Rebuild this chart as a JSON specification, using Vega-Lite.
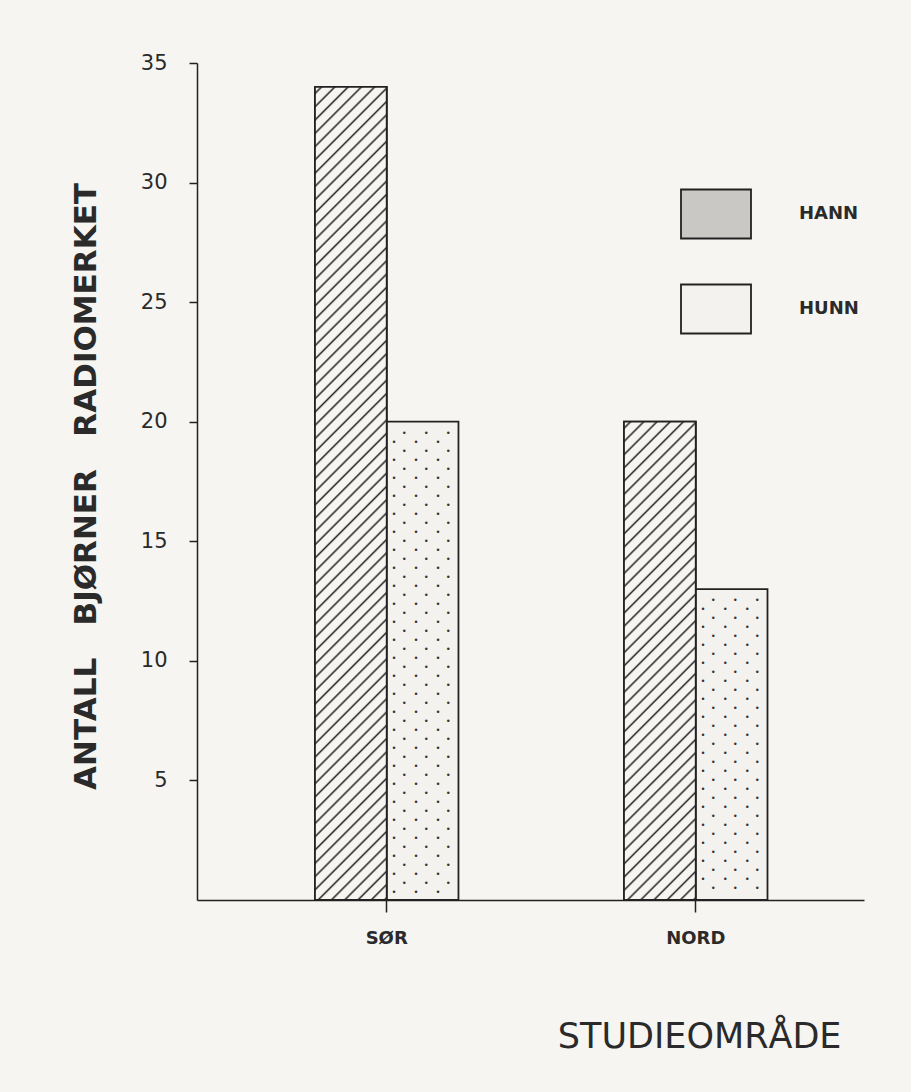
{
  "$schema": "https://vega.github.io/schema/vega-lite/v6.json",
  "width": 667,
  "height": 837,
  "autosize": "none",
  "padding": {"left": 197, "top": 63, "right": 47, "bottom": 192},
  "background": "#f6f5f1",
  "config": {"view": {"stroke": null}, "font": "DejaVu Sans"},
  "data": {
    "values": [
      {"area": "SØR", "sex": "HANN", "count": 34},
      {"area": "SØR", "sex": "HUNN", "count": 20},
      {"area": "NORD", "sex": "HANN", "count": 20},
      {"area": "NORD", "sex": "HUNN", "count": 13}
    ]
  },
  "encoding": {
    "x": {
      "field": "area",
      "type": "nominal",
      "sort": ["SØR", "NORD"],
      "scale": {"paddingInner": 0.5356, "paddingOuter": 0.347, "align": 0.55, "round": false},
      "axis": {
        "title": "STUDIEOMRÅDE",
        "labelAngle": 0,
        "labelFont": "DejaVu Sans",
        "labelFontWeight": "bold",
        "labelFontSize": 18,
        "labelColor": "#2a2a2a",
        "labelPadding": 17,
        "tickSize": 12,
        "tickColor": "#222",
        "tickWidth": 1.5,
        "domainColor": "#222",
        "domainWidth": 1.5,
        "titleFont": "DejaVu Sans",
        "titleFontWeight": "normal",
        "titleFontSize": 35,
        "titleColor": "#2a2a2a",
        "titleX": 644,
        "titleY": 147,
        "titleAlign": "right",
        "titleBaseline": "alphabetic"
      }
    },
    "xOffset": {
      "field": "sex",
      "type": "nominal",
      "sort": ["HANN", "HUNN"],
      "scale": {"paddingInner": 0, "paddingOuter": 0}
    },
    "y": {
      "field": "count",
      "type": "quantitative",
      "scale": {"domain": [0, 35], "nice": false},
      "axis": {
        "title": "ANTALL\u00a0\u00a0\u00a0BJØRNER\u00a0\u00a0\u00a0RADIOMERKET",
        "values": [5, 10, 15, 20, 25, 30, 35],
        "grid": false,
        "labelFont": "DejaVu Sans",
        "labelFontSize": 21,
        "labelColor": "#2a2a2a",
        "labelPadding": 22,
        "tickSize": 8,
        "tickColor": "#222",
        "tickWidth": 1.5,
        "domainColor": "#222",
        "domainWidth": 1.5,
        "titleFont": "DejaVu Sans",
        "titleFontWeight": "bold",
        "titleFontSize": 31,
        "titleColor": "#2a2a2a",
        "titleX": -102,
        "titleY": 423,
        "titleAlign": "center",
        "titleBaseline": "alphabetic",
        "titleAngle": -90
      }
    }
  },
  "layer": [
    {
      "mark": {"type": "bar", "stroke": "#222", "strokeWidth": 1.8},
      "encoding": {
        "fill": {
          "field": "sex",
          "type": "nominal",
          "sort": ["HANN", "HUNN"],
          "scale": {"domain": ["HANN", "HUNN"], "range": ["#c9c8c4", "#f3f2ee"]},
          "legend": {
            "title": null,
            "orient": "none",
            "legendX": 483,
            "legendY": 115,
            "padding": 0,
            "symbolType": "M-1,-0.7H1V0.7H-1Z",
            "symbolSize": 4900,
            "symbolStrokeColor": "#222",
            "symbolStrokeWidth": 1.8,
            "labelFont": "DejaVu Sans",
            "labelFontWeight": "bold",
            "labelFontSize": 18,
            "labelColor": "#2a2a2a",
            "labelOffset": 47,
            "rowPadding": 30
          }
        }
      }
    },
    {
      "transform": [{"filter": "datum.area === 'SØR' && datum.sex === 'HANN'"}],
      "mark": {
        "type": "bar", "stroke": "#222", "strokeWidth": 1.8,
        "fill": {
          "gradient": "linear", "x1": 0, "y1": 0, "x2": 0.0953, "y2": 1.0798,
          "stops": [
            {"offset": 0.005, "color": "#f6f5f1"}, {"offset": 0.0075, "color": "#2a2a2a"}, {"offset": 0.01, "color": "#f6f5f1"},
            {"offset": 0.02, "color": "#f6f5f1"}, {"offset": 0.0225, "color": "#2a2a2a"}, {"offset": 0.025, "color": "#f6f5f1"},
            {"offset": 0.035, "color": "#f6f5f1"}, {"offset": 0.0375, "color": "#2a2a2a"}, {"offset": 0.04, "color": "#f6f5f1"},
            {"offset": 0.05, "color": "#f6f5f1"}, {"offset": 0.0525, "color": "#2a2a2a"}, {"offset": 0.055, "color": "#f6f5f1"},
            {"offset": 0.065, "color": "#f6f5f1"}, {"offset": 0.0675, "color": "#2a2a2a"}, {"offset": 0.07, "color": "#f6f5f1"},
            {"offset": 0.08, "color": "#f6f5f1"}, {"offset": 0.0825, "color": "#2a2a2a"}, {"offset": 0.085, "color": "#f6f5f1"},
            {"offset": 0.095, "color": "#f6f5f1"}, {"offset": 0.0975, "color": "#2a2a2a"}, {"offset": 0.1, "color": "#f6f5f1"},
            {"offset": 0.11, "color": "#f6f5f1"}, {"offset": 0.1125, "color": "#2a2a2a"}, {"offset": 0.115, "color": "#f6f5f1"},
            {"offset": 0.125, "color": "#f6f5f1"}, {"offset": 0.1275, "color": "#2a2a2a"}, {"offset": 0.13, "color": "#f6f5f1"},
            {"offset": 0.14, "color": "#f6f5f1"}, {"offset": 0.1425, "color": "#2a2a2a"}, {"offset": 0.145, "color": "#f6f5f1"},
            {"offset": 0.155, "color": "#f6f5f1"}, {"offset": 0.1575, "color": "#2a2a2a"}, {"offset": 0.16, "color": "#f6f5f1"},
            {"offset": 0.17, "color": "#f6f5f1"}, {"offset": 0.1725, "color": "#2a2a2a"}, {"offset": 0.175, "color": "#f6f5f1"},
            {"offset": 0.185, "color": "#f6f5f1"}, {"offset": 0.1875, "color": "#2a2a2a"}, {"offset": 0.19, "color": "#f6f5f1"},
            {"offset": 0.2, "color": "#f6f5f1"}, {"offset": 0.2025, "color": "#2a2a2a"}, {"offset": 0.205, "color": "#f6f5f1"},
            {"offset": 0.215, "color": "#f6f5f1"}, {"offset": 0.2175, "color": "#2a2a2a"}, {"offset": 0.22, "color": "#f6f5f1"},
            {"offset": 0.23, "color": "#f6f5f1"}, {"offset": 0.2325, "color": "#2a2a2a"}, {"offset": 0.235, "color": "#f6f5f1"},
            {"offset": 0.245, "color": "#f6f5f1"}, {"offset": 0.2475, "color": "#2a2a2a"}, {"offset": 0.25, "color": "#f6f5f1"},
            {"offset": 0.26, "color": "#f6f5f1"}, {"offset": 0.2625, "color": "#2a2a2a"}, {"offset": 0.265, "color": "#f6f5f1"},
            {"offset": 0.275, "color": "#f6f5f1"}, {"offset": 0.2775, "color": "#2a2a2a"}, {"offset": 0.28, "color": "#f6f5f1"},
            {"offset": 0.29, "color": "#f6f5f1"}, {"offset": 0.2925, "color": "#2a2a2a"}, {"offset": 0.295, "color": "#f6f5f1"},
            {"offset": 0.305, "color": "#f6f5f1"}, {"offset": 0.3075, "color": "#2a2a2a"}, {"offset": 0.31, "color": "#f6f5f1"},
            {"offset": 0.32, "color": "#f6f5f1"}, {"offset": 0.3225, "color": "#2a2a2a"}, {"offset": 0.325, "color": "#f6f5f1"},
            {"offset": 0.335, "color": "#f6f5f1"}, {"offset": 0.3375, "color": "#2a2a2a"}, {"offset": 0.34, "color": "#f6f5f1"},
            {"offset": 0.35, "color": "#f6f5f1"}, {"offset": 0.3525, "color": "#2a2a2a"}, {"offset": 0.355, "color": "#f6f5f1"},
            {"offset": 0.365, "color": "#f6f5f1"}, {"offset": 0.3675, "color": "#2a2a2a"}, {"offset": 0.37, "color": "#f6f5f1"},
            {"offset": 0.38, "color": "#f6f5f1"}, {"offset": 0.3825, "color": "#2a2a2a"}, {"offset": 0.385, "color": "#f6f5f1"},
            {"offset": 0.395, "color": "#f6f5f1"}, {"offset": 0.3975, "color": "#2a2a2a"}, {"offset": 0.4, "color": "#f6f5f1"},
            {"offset": 0.41, "color": "#f6f5f1"}, {"offset": 0.4125, "color": "#2a2a2a"}, {"offset": 0.415, "color": "#f6f5f1"},
            {"offset": 0.425, "color": "#f6f5f1"}, {"offset": 0.4275, "color": "#2a2a2a"}, {"offset": 0.43, "color": "#f6f5f1"},
            {"offset": 0.44, "color": "#f6f5f1"}, {"offset": 0.4425, "color": "#2a2a2a"}, {"offset": 0.445, "color": "#f6f5f1"},
            {"offset": 0.455, "color": "#f6f5f1"}, {"offset": 0.4575, "color": "#2a2a2a"}, {"offset": 0.46, "color": "#f6f5f1"},
            {"offset": 0.47, "color": "#f6f5f1"}, {"offset": 0.4725, "color": "#2a2a2a"}, {"offset": 0.475, "color": "#f6f5f1"},
            {"offset": 0.485, "color": "#f6f5f1"}, {"offset": 0.4875, "color": "#2a2a2a"}, {"offset": 0.49, "color": "#f6f5f1"},
            {"offset": 0.5, "color": "#f6f5f1"}, {"offset": 0.5025, "color": "#2a2a2a"}, {"offset": 0.505, "color": "#f6f5f1"},
            {"offset": 0.515, "color": "#f6f5f1"}, {"offset": 0.5175, "color": "#2a2a2a"}, {"offset": 0.52, "color": "#f6f5f1"},
            {"offset": 0.53, "color": "#f6f5f1"}, {"offset": 0.5325, "color": "#2a2a2a"}, {"offset": 0.535, "color": "#f6f5f1"},
            {"offset": 0.545, "color": "#f6f5f1"}, {"offset": 0.5475, "color": "#2a2a2a"}, {"offset": 0.55, "color": "#f6f5f1"},
            {"offset": 0.56, "color": "#f6f5f1"}, {"offset": 0.5625, "color": "#2a2a2a"}, {"offset": 0.565, "color": "#f6f5f1"},
            {"offset": 0.575, "color": "#f6f5f1"}, {"offset": 0.5775, "color": "#2a2a2a"}, {"offset": 0.58, "color": "#f6f5f1"},
            {"offset": 0.59, "color": "#f6f5f1"}, {"offset": 0.5925, "color": "#2a2a2a"}, {"offset": 0.595, "color": "#f6f5f1"},
            {"offset": 0.605, "color": "#f6f5f1"}, {"offset": 0.6075, "color": "#2a2a2a"}, {"offset": 0.61, "color": "#f6f5f1"},
            {"offset": 0.62, "color": "#f6f5f1"}, {"offset": 0.6225, "color": "#2a2a2a"}, {"offset": 0.625, "color": "#f6f5f1"},
            {"offset": 0.635, "color": "#f6f5f1"}, {"offset": 0.6375, "color": "#2a2a2a"}, {"offset": 0.64, "color": "#f6f5f1"},
            {"offset": 0.65, "color": "#f6f5f1"}, {"offset": 0.6525, "color": "#2a2a2a"}, {"offset": 0.655, "color": "#f6f5f1"},
            {"offset": 0.665, "color": "#f6f5f1"}, {"offset": 0.6675, "color": "#2a2a2a"}, {"offset": 0.67, "color": "#f6f5f1"},
            {"offset": 0.68, "color": "#f6f5f1"}, {"offset": 0.6825, "color": "#2a2a2a"}, {"offset": 0.685, "color": "#f6f5f1"},
            {"offset": 0.695, "color": "#f6f5f1"}, {"offset": 0.6975, "color": "#2a2a2a"}, {"offset": 0.7, "color": "#f6f5f1"},
            {"offset": 0.71, "color": "#f6f5f1"}, {"offset": 0.7125, "color": "#2a2a2a"}, {"offset": 0.715, "color": "#f6f5f1"},
            {"offset": 0.725, "color": "#f6f5f1"}, {"offset": 0.7275, "color": "#2a2a2a"}, {"offset": 0.73, "color": "#f6f5f1"},
            {"offset": 0.74, "color": "#f6f5f1"}, {"offset": 0.7425, "color": "#2a2a2a"}, {"offset": 0.745, "color": "#f6f5f1"},
            {"offset": 0.755, "color": "#f6f5f1"}, {"offset": 0.7575, "color": "#2a2a2a"}, {"offset": 0.76, "color": "#f6f5f1"},
            {"offset": 0.77, "color": "#f6f5f1"}, {"offset": 0.7725, "color": "#2a2a2a"}, {"offset": 0.775, "color": "#f6f5f1"},
            {"offset": 0.785, "color": "#f6f5f1"}, {"offset": 0.7875, "color": "#2a2a2a"}, {"offset": 0.79, "color": "#f6f5f1"},
            {"offset": 0.8, "color": "#f6f5f1"}, {"offset": 0.8025, "color": "#2a2a2a"}, {"offset": 0.805, "color": "#f6f5f1"},
            {"offset": 0.815, "color": "#f6f5f1"}, {"offset": 0.8175, "color": "#2a2a2a"}, {"offset": 0.82, "color": "#f6f5f1"},
            {"offset": 0.83, "color": "#f6f5f1"}, {"offset": 0.8325, "color": "#2a2a2a"}, {"offset": 0.835, "color": "#f6f5f1"},
            {"offset": 0.845, "color": "#f6f5f1"}, {"offset": 0.8475, "color": "#2a2a2a"}, {"offset": 0.85, "color": "#f6f5f1"},
            {"offset": 0.86, "color": "#f6f5f1"}, {"offset": 0.8625, "color": "#2a2a2a"}, {"offset": 0.865, "color": "#f6f5f1"},
            {"offset": 0.875, "color": "#f6f5f1"}, {"offset": 0.8775, "color": "#2a2a2a"}, {"offset": 0.88, "color": "#f6f5f1"},
            {"offset": 0.89, "color": "#f6f5f1"}, {"offset": 0.8925, "color": "#2a2a2a"}, {"offset": 0.895, "color": "#f6f5f1"},
            {"offset": 0.905, "color": "#f6f5f1"}, {"offset": 0.9075, "color": "#2a2a2a"}, {"offset": 0.91, "color": "#f6f5f1"},
            {"offset": 0.92, "color": "#f6f5f1"}, {"offset": 0.9225, "color": "#2a2a2a"}, {"offset": 0.925, "color": "#f6f5f1"},
            {"offset": 0.935, "color": "#f6f5f1"}, {"offset": 0.9375, "color": "#2a2a2a"}, {"offset": 0.94, "color": "#f6f5f1"},
            {"offset": 0.95, "color": "#f6f5f1"}, {"offset": 0.9525, "color": "#2a2a2a"}, {"offset": 0.955, "color": "#f6f5f1"},
            {"offset": 0.965, "color": "#f6f5f1"}, {"offset": 0.9675, "color": "#2a2a2a"}, {"offset": 0.97, "color": "#f6f5f1"},
            {"offset": 0.98, "color": "#f6f5f1"}, {"offset": 0.9825, "color": "#2a2a2a"}, {"offset": 0.985, "color": "#f6f5f1"},
            {"offset": 0.995, "color": "#f6f5f1"}, {"offset": 0.9975, "color": "#2a2a2a"}, {"offset": 1, "color": "#f6f5f1"}
          ]
        }
      }
    },
    {
      "transform": [{"filter": "datum.area === 'NORD' && datum.sex === 'HANN'"}],
      "mark": {
        "type": "bar", "stroke": "#222", "strokeWidth": 1.8,
        "fill": {
          "gradient": "linear", "x1": 0, "y1": 0, "x2": 0.1687, "y2": 1.1246,
          "stops": [
            {"offset": 0.008, "color": "#f6f5f1"}, {"offset": 0.012, "color": "#2a2a2a"}, {"offset": 0.016, "color": "#f6f5f1"},
            {"offset": 0.032, "color": "#f6f5f1"}, {"offset": 0.036, "color": "#2a2a2a"}, {"offset": 0.04, "color": "#f6f5f1"},
            {"offset": 0.056, "color": "#f6f5f1"}, {"offset": 0.06, "color": "#2a2a2a"}, {"offset": 0.064, "color": "#f6f5f1"},
            {"offset": 0.08, "color": "#f6f5f1"}, {"offset": 0.084, "color": "#2a2a2a"}, {"offset": 0.088, "color": "#f6f5f1"},
            {"offset": 0.104, "color": "#f6f5f1"}, {"offset": 0.108, "color": "#2a2a2a"}, {"offset": 0.112, "color": "#f6f5f1"},
            {"offset": 0.128, "color": "#f6f5f1"}, {"offset": 0.132, "color": "#2a2a2a"}, {"offset": 0.136, "color": "#f6f5f1"},
            {"offset": 0.152, "color": "#f6f5f1"}, {"offset": 0.156, "color": "#2a2a2a"}, {"offset": 0.16, "color": "#f6f5f1"},
            {"offset": 0.176, "color": "#f6f5f1"}, {"offset": 0.18, "color": "#2a2a2a"}, {"offset": 0.184, "color": "#f6f5f1"},
            {"offset": 0.2, "color": "#f6f5f1"}, {"offset": 0.204, "color": "#2a2a2a"}, {"offset": 0.208, "color": "#f6f5f1"},
            {"offset": 0.224, "color": "#f6f5f1"}, {"offset": 0.228, "color": "#2a2a2a"}, {"offset": 0.232, "color": "#f6f5f1"},
            {"offset": 0.248, "color": "#f6f5f1"}, {"offset": 0.252, "color": "#2a2a2a"}, {"offset": 0.256, "color": "#f6f5f1"},
            {"offset": 0.272, "color": "#f6f5f1"}, {"offset": 0.276, "color": "#2a2a2a"}, {"offset": 0.28, "color": "#f6f5f1"},
            {"offset": 0.296, "color": "#f6f5f1"}, {"offset": 0.3, "color": "#2a2a2a"}, {"offset": 0.304, "color": "#f6f5f1"},
            {"offset": 0.32, "color": "#f6f5f1"}, {"offset": 0.324, "color": "#2a2a2a"}, {"offset": 0.328, "color": "#f6f5f1"},
            {"offset": 0.344, "color": "#f6f5f1"}, {"offset": 0.348, "color": "#2a2a2a"}, {"offset": 0.352, "color": "#f6f5f1"},
            {"offset": 0.368, "color": "#f6f5f1"}, {"offset": 0.372, "color": "#2a2a2a"}, {"offset": 0.376, "color": "#f6f5f1"},
            {"offset": 0.392, "color": "#f6f5f1"}, {"offset": 0.396, "color": "#2a2a2a"}, {"offset": 0.4, "color": "#f6f5f1"},
            {"offset": 0.416, "color": "#f6f5f1"}, {"offset": 0.42, "color": "#2a2a2a"}, {"offset": 0.424, "color": "#f6f5f1"},
            {"offset": 0.44, "color": "#f6f5f1"}, {"offset": 0.444, "color": "#2a2a2a"}, {"offset": 0.448, "color": "#f6f5f1"},
            {"offset": 0.464, "color": "#f6f5f1"}, {"offset": 0.468, "color": "#2a2a2a"}, {"offset": 0.472, "color": "#f6f5f1"},
            {"offset": 0.488, "color": "#f6f5f1"}, {"offset": 0.492, "color": "#2a2a2a"}, {"offset": 0.496, "color": "#f6f5f1"},
            {"offset": 0.512, "color": "#f6f5f1"}, {"offset": 0.516, "color": "#2a2a2a"}, {"offset": 0.52, "color": "#f6f5f1"},
            {"offset": 0.536, "color": "#f6f5f1"}, {"offset": 0.54, "color": "#2a2a2a"}, {"offset": 0.544, "color": "#f6f5f1"},
            {"offset": 0.56, "color": "#f6f5f1"}, {"offset": 0.564, "color": "#2a2a2a"}, {"offset": 0.568, "color": "#f6f5f1"},
            {"offset": 0.584, "color": "#f6f5f1"}, {"offset": 0.588, "color": "#2a2a2a"}, {"offset": 0.592, "color": "#f6f5f1"},
            {"offset": 0.608, "color": "#f6f5f1"}, {"offset": 0.612, "color": "#2a2a2a"}, {"offset": 0.616, "color": "#f6f5f1"},
            {"offset": 0.632, "color": "#f6f5f1"}, {"offset": 0.636, "color": "#2a2a2a"}, {"offset": 0.64, "color": "#f6f5f1"},
            {"offset": 0.656, "color": "#f6f5f1"}, {"offset": 0.66, "color": "#2a2a2a"}, {"offset": 0.664, "color": "#f6f5f1"},
            {"offset": 0.68, "color": "#f6f5f1"}, {"offset": 0.684, "color": "#2a2a2a"}, {"offset": 0.688, "color": "#f6f5f1"},
            {"offset": 0.704, "color": "#f6f5f1"}, {"offset": 0.708, "color": "#2a2a2a"}, {"offset": 0.712, "color": "#f6f5f1"},
            {"offset": 0.728, "color": "#f6f5f1"}, {"offset": 0.732, "color": "#2a2a2a"}, {"offset": 0.736, "color": "#f6f5f1"},
            {"offset": 0.752, "color": "#f6f5f1"}, {"offset": 0.756, "color": "#2a2a2a"}, {"offset": 0.76, "color": "#f6f5f1"},
            {"offset": 0.776, "color": "#f6f5f1"}, {"offset": 0.78, "color": "#2a2a2a"}, {"offset": 0.784, "color": "#f6f5f1"},
            {"offset": 0.8, "color": "#f6f5f1"}, {"offset": 0.804, "color": "#2a2a2a"}, {"offset": 0.808, "color": "#f6f5f1"},
            {"offset": 0.824, "color": "#f6f5f1"}, {"offset": 0.828, "color": "#2a2a2a"}, {"offset": 0.832, "color": "#f6f5f1"},
            {"offset": 0.848, "color": "#f6f5f1"}, {"offset": 0.852, "color": "#2a2a2a"}, {"offset": 0.856, "color": "#f6f5f1"},
            {"offset": 0.872, "color": "#f6f5f1"}, {"offset": 0.876, "color": "#2a2a2a"}, {"offset": 0.88, "color": "#f6f5f1"},
            {"offset": 0.896, "color": "#f6f5f1"}, {"offset": 0.9, "color": "#2a2a2a"}, {"offset": 0.904, "color": "#f6f5f1"},
            {"offset": 0.92, "color": "#f6f5f1"}, {"offset": 0.924, "color": "#2a2a2a"}, {"offset": 0.928, "color": "#f6f5f1"},
            {"offset": 0.944, "color": "#f6f5f1"}, {"offset": 0.948, "color": "#2a2a2a"}, {"offset": 0.952, "color": "#f6f5f1"},
            {"offset": 0.968, "color": "#f6f5f1"}, {"offset": 0.972, "color": "#2a2a2a"}, {"offset": 0.976, "color": "#f6f5f1"},
            {"offset": 0.992, "color": "#f6f5f1"}, {"offset": 0.996, "color": "#2a2a2a"}, {"offset": 1, "color": "#f6f5f1"}
          ]
        }
      }
    },
    {
      "transform": [{"filter": "datum.area === 'SØR' && datum.sex === 'HUNN'"}],
      "mark": {
        "type": "text", "align": "left", "baseline": "top", "dx": -31, "dy": 7,
        "font": "DejaVu Sans", "fontSize": 8.5, "lineHeight": 9, "color": "#333",
        "text": [
          "\u200b\u2003\u2009\u2022\u2003\u2003\u2022\u2003\u2003\u2022", "\u2022\u2003\u2003\u2022\u2003\u2003\u2022",
          "\u200b\u2003\u2009\u2022\u2003\u2003\u2022\u2003\u2003\u2022", "\u2022\u2003\u2003\u2022\u2003\u2003\u2022",
          "\u200b\u2003\u2009\u2022\u2003\u2003\u2022\u2003\u2003\u2022", "\u2022\u2003\u2003\u2022\u2003\u2003\u2022",
          "\u200b\u2003\u2009\u2022\u2003\u2003\u2022\u2003\u2003\u2022", "\u2022\u2003\u2003\u2022\u2003\u2003\u2022",
          "\u200b\u2003\u2009\u2022\u2003\u2003\u2022\u2003\u2003\u2022", "\u2022\u2003\u2003\u2022\u2003\u2003\u2022",
          "\u200b\u2003\u2009\u2022\u2003\u2003\u2022\u2003\u2003\u2022", "\u2022\u2003\u2003\u2022\u2003\u2003\u2022",
          "\u200b\u2003\u2009\u2022\u2003\u2003\u2022\u2003\u2003\u2022", "\u2022\u2003\u2003\u2022\u2003\u2003\u2022",
          "\u200b\u2003\u2009\u2022\u2003\u2003\u2022\u2003\u2003\u2022", "\u2022\u2003\u2003\u2022\u2003\u2003\u2022",
          "\u200b\u2003\u2009\u2022\u2003\u2003\u2022\u2003\u2003\u2022", "\u2022\u2003\u2003\u2022\u2003\u2003\u2022",
          "\u200b\u2003\u2009\u2022\u2003\u2003\u2022\u2003\u2003\u2022", "\u2022\u2003\u2003\u2022\u2003\u2003\u2022",
          "\u200b\u2003\u2009\u2022\u2003\u2003\u2022\u2003\u2003\u2022", "\u2022\u2003\u2003\u2022\u2003\u2003\u2022",
          "\u200b\u2003\u2009\u2022\u2003\u2003\u2022\u2003\u2003\u2022", "\u2022\u2003\u2003\u2022\u2003\u2003\u2022",
          "\u200b\u2003\u2009\u2022\u2003\u2003\u2022\u2003\u2003\u2022", "\u2022\u2003\u2003\u2022\u2003\u2003\u2022",
          "\u200b\u2003\u2009\u2022\u2003\u2003\u2022\u2003\u2003\u2022", "\u2022\u2003\u2003\u2022\u2003\u2003\u2022",
          "\u200b\u2003\u2009\u2022\u2003\u2003\u2022\u2003\u2003\u2022", "\u2022\u2003\u2003\u2022\u2003\u2003\u2022",
          "\u200b\u2003\u2009\u2022\u2003\u2003\u2022\u2003\u2003\u2022", "\u2022\u2003\u2003\u2022\u2003\u2003\u2022",
          "\u200b\u2003\u2009\u2022\u2003\u2003\u2022\u2003\u2003\u2022", "\u2022\u2003\u2003\u2022\u2003\u2003\u2022",
          "\u200b\u2003\u2009\u2022\u2003\u2003\u2022\u2003\u2003\u2022", "\u2022\u2003\u2003\u2022\u2003\u2003\u2022",
          "\u200b\u2003\u2009\u2022\u2003\u2003\u2022\u2003\u2003\u2022", "\u2022\u2003\u2003\u2022\u2003\u2003\u2022",
          "\u200b\u2003\u2009\u2022\u2003\u2003\u2022\u2003\u2003\u2022", "\u2022\u2003\u2003\u2022\u2003\u2003\u2022",
          "\u200b\u2003\u2009\u2022\u2003\u2003\u2022\u2003\u2003\u2022", "\u2022\u2003\u2003\u2022\u2003\u2003\u2022",
          "\u200b\u2003\u2009\u2022\u2003\u2003\u2022\u2003\u2003\u2022", "\u2022\u2003\u2003\u2022\u2003\u2003\u2022",
          "\u200b\u2003\u2009\u2022\u2003\u2003\u2022\u2003\u2003\u2022", "\u2022\u2003\u2003\u2022\u2003\u2003\u2022",
          "\u200b\u2003\u2009\u2022\u2003\u2003\u2022\u2003\u2003\u2022", "\u2022\u2003\u2003\u2022\u2003\u2003\u2022",
          "\u200b\u2003\u2009\u2022\u2003\u2003\u2022\u2003\u2003\u2022", "\u2022\u2003\u2003\u2022\u2003\u2003\u2022",
          "\u200b\u2003\u2009\u2022\u2003\u2003\u2022\u2003\u2003\u2022", "\u2022\u2003\u2003\u2022\u2003\u2003\u2022"
        ]
      }
    },
    {
      "transform": [{"filter": "datum.area === 'NORD' && datum.sex === 'HUNN'"}],
      "mark": {
        "type": "text", "align": "left", "baseline": "top", "dx": -31, "dy": 7,
        "font": "DejaVu Sans", "fontSize": 8.5, "lineHeight": 9, "color": "#333",
        "text": [
          "\u200b\u2003\u2009\u2022\u2003\u2003\u2022\u2003\u2003\u2022", "\u2022\u2003\u2003\u2022\u2003\u2003\u2022",
          "\u200b\u2003\u2009\u2022\u2003\u2003\u2022\u2003\u2003\u2022", "\u2022\u2003\u2003\u2022\u2003\u2003\u2022",
          "\u200b\u2003\u2009\u2022\u2003\u2003\u2022\u2003\u2003\u2022", "\u2022\u2003\u2003\u2022\u2003\u2003\u2022",
          "\u200b\u2003\u2009\u2022\u2003\u2003\u2022\u2003\u2003\u2022", "\u2022\u2003\u2003\u2022\u2003\u2003\u2022",
          "\u200b\u2003\u2009\u2022\u2003\u2003\u2022\u2003\u2003\u2022", "\u2022\u2003\u2003\u2022\u2003\u2003\u2022",
          "\u200b\u2003\u2009\u2022\u2003\u2003\u2022\u2003\u2003\u2022", "\u2022\u2003\u2003\u2022\u2003\u2003\u2022",
          "\u200b\u2003\u2009\u2022\u2003\u2003\u2022\u2003\u2003\u2022", "\u2022\u2003\u2003\u2022\u2003\u2003\u2022",
          "\u200b\u2003\u2009\u2022\u2003\u2003\u2022\u2003\u2003\u2022", "\u2022\u2003\u2003\u2022\u2003\u2003\u2022",
          "\u200b\u2003\u2009\u2022\u2003\u2003\u2022\u2003\u2003\u2022", "\u2022\u2003\u2003\u2022\u2003\u2003\u2022",
          "\u200b\u2003\u2009\u2022\u2003\u2003\u2022\u2003\u2003\u2022", "\u2022\u2003\u2003\u2022\u2003\u2003\u2022",
          "\u200b\u2003\u2009\u2022\u2003\u2003\u2022\u2003\u2003\u2022", "\u2022\u2003\u2003\u2022\u2003\u2003\u2022",
          "\u200b\u2003\u2009\u2022\u2003\u2003\u2022\u2003\u2003\u2022", "\u2022\u2003\u2003\u2022\u2003\u2003\u2022",
          "\u200b\u2003\u2009\u2022\u2003\u2003\u2022\u2003\u2003\u2022", "\u2022\u2003\u2003\u2022\u2003\u2003\u2022",
          "\u200b\u2003\u2009\u2022\u2003\u2003\u2022\u2003\u2003\u2022", "\u2022\u2003\u2003\u2022\u2003\u2003\u2022",
          "\u200b\u2003\u2009\u2022\u2003\u2003\u2022\u2003\u2003\u2022", "\u2022\u2003\u2003\u2022\u2003\u2003\u2022",
          "\u200b\u2003\u2009\u2022\u2003\u2003\u2022\u2003\u2003\u2022", "\u2022\u2003\u2003\u2022\u2003\u2003\u2022",
          "\u200b\u2003\u2009\u2022\u2003\u2003\u2022\u2003\u2003\u2022"
        ]
      }
    }
  ]
}
